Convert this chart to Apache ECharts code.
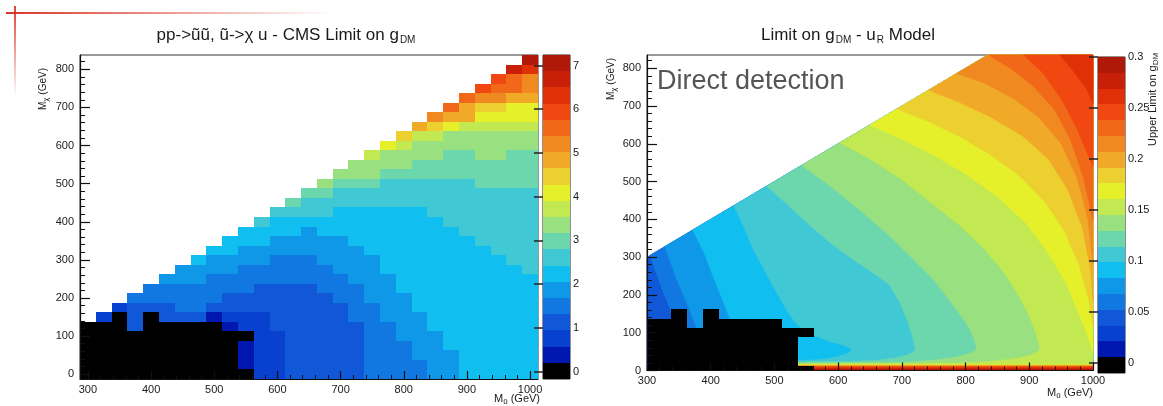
<!DOCTYPE html>
<html>
<head>
<meta charset="utf-8">
<script src="https://cdn.jsdelivr.net/npm/echarts@6/dist/echarts.min.js"></script>
<style>
html,body{margin:0;padding:0;background:#fff;}
#chart{width:1163px;height:406px;}
</style>
</head>
<body>
<div id="chart"></div>
<script>
// ---------------- CMS limit on g_DM (left panel) ----------------
// One array per squark mass M_u (GeV); entries are M_chi = 0, 25, 50, ... GeV.
// A value of 0 marks points with no limit (drawn black).
const cmsLimit300  = [0,0,0,0,0,0];
const cmsLimit325  = [0,0,0,0,0,0,0.8];
const cmsLimit350  = [0,0,0,0,0,0,0,0.8];
const cmsLimit375  = [0,0,0,0,0,1.1,1.1,1.1,1.5];
const cmsLimit400  = [0,0,0,0,0,0,0,1.1,1.5,1.5];
const cmsLimit425  = [0,0,0,0,0,0,1.1,1.1,1.5,1.5,1.9];
const cmsLimit450  = [0,0,0,0,0,0,1.1,1.5,1.5,1.5,1.9,1.9];
const cmsLimit475  = [0,0,0,0,0,0,1.1,1.5,1.5,1.5,1.9,1.9,2.2];
const cmsLimit500  = [0,0,0,0,0,0,0.4,1.1,1.5,1.5,1.5,1.9,1.9,2.2];
const cmsLimit525  = [0,0,0,0,0,0.4,0.8,1.1,1.1,1.5,1.5,1.9,1.9,2.2,2.2];
const cmsLimit550  = [0,0.4,0.4,0.4,0,0.8,0.8,1.1,1.1,1.5,1.5,1.5,1.9,1.9,2.2,2.2];
const cmsLimit575  = [0.8,0.8,0.8,0.8,0.8,0.8,0.8,1.1,1.1,1.1,1.5,1.5,1.9,1.9,2.2,2.2,2.6];
const cmsLimit600  = [0.8,0.8,0.8,0.8,0.8,1.1,1.1,1.1,1.1,1.1,1.5,1.5,1.5,1.9,1.9,2.2,2.2,2.6];
const cmsLimit625  = [1.1,1.1,1.1,1.1,1.1,1.1,1.1,1.1,1.1,1.1,1.5,1.5,1.5,1.9,1.9,2.2,2.2,2.6,3.0];
const cmsLimit650  = [1.1,1.1,1.1,1.1,1.1,1.1,1.1,1.1,1.1,1.1,1.5,1.5,1.5,1.9,1.9,1.9,2.2,2.6,2.6,3.0];
const cmsLimit675  = [1.1,1.1,1.1,1.1,1.1,1.1,1.1,1.1,1.1,1.5,1.5,1.5,1.9,1.9,1.9,2.2,2.2,2.6,2.6,3.0,3.4];
const cmsLimit700  = [1.1,1.1,1.1,1.1,1.1,1.1,1.1,1.1,1.5,1.5,1.5,1.9,1.9,1.9,1.9,2.2,2.2,2.2,2.6,2.6,3.0,3.4];
const cmsLimit725  = [1.1,1.1,1.1,1.1,1.1,1.1,1.5,1.5,1.5,1.5,1.9,1.9,1.9,1.9,2.2,2.2,2.2,2.2,2.6,2.6,3.0,3.4,3.4];
const cmsLimit750  = [1.5,1.5,1.5,1.5,1.5,1.5,1.5,1.5,1.9,1.9,1.9,1.9,1.9,2.2,2.2,2.2,2.2,2.2,2.6,2.6,3.0,3.4,3.4,3.7];
const cmsLimit775  = [1.5,1.5,1.5,1.5,1.5,1.5,1.9,1.9,1.9,1.9,1.9,2.2,2.2,2.2,2.2,2.2,2.2,2.2,2.6,2.6,2.6,3.0,3.4,3.4,4.1];
const cmsLimit800  = [1.5,1.5,1.5,1.5,1.9,1.9,1.9,1.9,1.9,2.2,2.2,2.2,2.2,2.2,2.2,2.2,2.2,2.2,2.6,2.6,2.6,3.0,3.4,3.4,3.7,4.5];
const cmsLimit825  = [1.5,1.5,1.9,1.9,1.9,1.9,1.9,2.2,2.2,2.2,2.2,2.2,2.2,2.2,2.2,2.2,2.2,2.2,2.6,2.6,2.6,3.0,3.0,3.4,3.4,3.7,4.8];
const cmsLimit850  = [1.9,1.9,1.9,1.9,1.9,2.2,2.2,2.2,2.2,2.2,2.2,2.2,2.2,2.2,2.2,2.2,2.2,2.6,2.6,2.6,2.6,3.0,3.0,3.4,3.4,3.7,4.5,5.2];
const cmsLimit875  = [1.9,1.9,1.9,2.2,2.2,2.2,2.2,2.2,2.2,2.2,2.2,2.2,2.2,2.2,2.2,2.2,2.6,2.6,2.6,2.6,2.6,3.0,3.0,3.0,3.4,3.4,4.1,4.8,5.6];
const cmsLimit900  = [2.2,2.2,2.2,2.2,2.2,2.2,2.2,2.2,2.2,2.2,2.2,2.2,2.2,2.2,2.2,2.6,2.6,2.6,2.6,2.6,2.6,3.0,3.0,3.0,3.4,3.4,3.7,4.8,4.8,5.6];
const cmsLimit925  = [2.2,2.2,2.2,2.2,2.2,2.2,2.2,2.2,2.2,2.2,2.2,2.2,2.2,2.2,2.6,2.6,2.6,2.6,2.6,2.6,3.0,3.0,3.0,3.4,3.4,3.4,3.7,4.1,4.5,5.2,5.9];
const cmsLimit950  = [2.2,2.2,2.2,2.2,2.2,2.2,2.2,2.2,2.2,2.2,2.2,2.2,2.2,2.6,2.6,2.6,2.6,2.6,2.6,2.6,3.0,3.0,3.0,3.4,3.4,3.4,3.7,4.1,4.5,5.2,5.6,5.9];
const cmsLimit975  = [2.2,2.2,2.2,2.2,2.2,2.2,2.2,2.2,2.2,2.2,2.2,2.2,2.6,2.6,2.6,2.6,2.6,2.6,2.6,2.6,3.0,3.0,3.0,3.0,3.4,3.4,3.7,4.1,4.1,4.8,5.6,5.6,6.7];
const cmsLimit1000 = [2.2,2.2,2.2,2.2,2.2,2.2,2.2,2.2,2.2,2.2,2.2,2.6,2.6,2.6,2.6,2.6,2.6,2.6,2.6,2.6,3.0,3.0,3.0,3.0,3.4,3.4,3.7,4.1,4.1,4.8,5.2,5.2,6.3,7.0];

const cmsMassU = [300,325,350,375,400,425,450,475,500,525,550,575,600,625,650,675,700,725,750,775,800,825,850,875,900,925,950,975,1000];
const cmsColumns = [cmsLimit300,cmsLimit325,cmsLimit350,cmsLimit375,cmsLimit400,cmsLimit425,cmsLimit450,cmsLimit475,
  cmsLimit500,cmsLimit525,cmsLimit550,cmsLimit575,cmsLimit600,cmsLimit625,cmsLimit650,cmsLimit675,cmsLimit700,
  cmsLimit725,cmsLimit750,cmsLimit775,cmsLimit800,cmsLimit825,cmsLimit850,cmsLimit875,cmsLimit900,cmsLimit925,
  cmsLimit950,cmsLimit975,cmsLimit1000];
const cmsBin = 25;            // GeV, both directions
const cmsZRange = [-0.17, 7.24];
const cmsXTicks = [300,400,500,600,700,800,900,1000];
const cmsYTicks = [0,100,200,300,400,500,600,700,800];
const cmsZTicks = [0,1,2,3,4,5,6,7];

// ---------------- Direct detection limit, u_R model (right panel) ----------------
// Iso-lines of the limit, [M_u, M_chi] points in GeV; each entry: [band above the line, points].
const ddBaseBand = 3;
const ddContour4  = [[305,305],[315,255],[326,205],[336,165],[342,130],[345,0]];
const ddContour5  = [[328,328],[347,240],[367,160],[378,112],[385,0]];
const ddContour6  = [[372,372],[390,310],[404,248],[418,190],[430,138],[436,0]];
const ddContour7  = [[436,436],[452,380],[467,319],[483,270],[498,222],[519,160],[535,122],[560,94],[588,76],[610,66],[619,58],[621,53],[616,46],[604,39],[585,32],[560,28],[530,26],[530,0]];
const ddContour8  = [[488,488],[520,440],[555,385],[590,335],[625,292],[655,258],[680,228],[697,180],[708,135],[715,100],[719,75],[721,60],[719,50],[710,42],[690,33],[660,27],[620,24],[530,23],[530,0]];
const ddContour9  = [[543,543],[590,485],[634,425],[675,365],[715,300],[750,240],[775,185],[795,140],[808,105],[814,80],[817,62],[815,52],[805,44],[785,35],[750,27],[700,22],[530,20],[530,0]];
const ddContour10 = [[603,603],[650,560],[700,505],[745,445],[790,385],[830,320],[860,260],[883,200],[900,145],[910,100],[915,72],[917,60],[914,50],[905,42],[880,32],[840,24],[780,19],[530,17],[530,0]];
const ddContour11 = [[650,650],[700,612],[750,570],[800,520],[850,460],[895,390],[930,310],[958,230],[978,150],[992,90],[1000,45]];
const ddContour12 = [[692,692],[740,660],[790,620],[840,570],[885,515],[925,445],[955,370],[978,280],[993,190],[1000,116]];
const ddContour13 = [[742,742],[790,710],[840,670],[890,620],[930,560],[960,480],[983,380],[996,270],[1000,186]];
const ddContour14 = [[786,786],[830,760],[875,720],[915,670],[950,600],[975,510],[992,400],[1000,284]];
const ddContour15 = [[836,835],[870,800],[905,755],[940,690],[965,610],[985,510],[1000,398]];
const ddContour16 = [[891,835],[920,790],[950,720],[975,640],[1000,539]];
const ddContour17 = [[948,835],[970,790],[990,745],[1000,707]];
const ddContours = [[4,ddContour4],[5,ddContour5],[6,ddContour6],[7,ddContour7],[8,ddContour8],[9,ddContour9],
  [10,ddContour10],[11,ddContour11],[12,ddContour12],[13,ddContour13],[14,ddContour14],[15,ddContour15],
  [16,ddContour16],[17,ddContour17]];
// Steep rise of the limit just above M_chi = 0: [band, upper M_chi edge]
const ddBottomStrip = [[11,15],[12,14],[13,13],[14,12],[15,11],[16,10],[17,8],[18,5],[19,2.5]];
const ddStripStart = 530;
const ddXRange = [300, 1000];
const ddYMax = 835;
const ddZRange = [-0.01, 0.3];
const ddXTicks = [300,400,500,600,700,800,900,1000];
const ddYTicks = [0,100,200,300,400,500,600,700,800];
const ddZTicks = [0,0.05,0.1,0.15,0.2,0.25,0.3];

// Shared 20-step colour palette (ROOT-style rainbow, black below the first level)
const palette = ['#000000','#0018b0','#0840d0','#1058d8','#1078e0','#1098e8','#10bef0','#40c8d4','#6cd6ac','#98e080',
  '#c2e852','#e6f02a','#ecd030','#f0aa28','#f08a20','#f06818','#f04810','#e03008','#c82008','#b01808'];
const nBands = palette.length;

const FONT = 'Liberation Sans, Arial, Helvetica, sans-serif';

function bandOf(v, range) {
  const w = (range[1] - range[0]) / nBands;
  return Math.max(0, Math.min(nBands - 1, Math.floor((v - range[0]) / w)));
}

// ---- series data ----
const cmsCells = [];
const ddBlackCells = [];
cmsColumns.forEach((col, i) => {
  col.forEach((v, j) => {
    cmsCells.push([cmsMassU[i], j * cmsBin, v]);
    if (bandOf(v, cmsZRange) === 0) ddBlackCells.push([cmsMassU[i], j * cmsBin, v]);
  });
});

function cellItem(params, api) {
  const x = api.value(0), y = api.value(1), v = api.value(2);
  const a = api.coord([x - cmsBin / 2, y + cmsBin / 2]);
  const b = api.coord([x + cmsBin / 2, y - cmsBin / 2]);
  const x0 = Math.round(a[0]), y0 = Math.round(a[1]);
  return { type: 'rect', shape: { x: x0, y: y0, width: Math.round(b[0]) - x0, height: Math.round(b[1]) - y0 },
    style: { fill: palette[bandOf(v, cmsZRange)] } };
}

function blackCellItem(params, api) {
  const x = api.value(0), y = api.value(1);
  const a = api.coord([Math.max(ddXRange[0], x - cmsBin / 2), y + cmsBin / 2]);
  const b = api.coord([x + cmsBin / 2, Math.max(0, y - cmsBin / 2)]);
  const x0 = Math.round(a[0]), y0 = Math.round(a[1]);
  return { type: 'rect', shape: { x: x0, y: y0, width: Math.round(b[0]) - x0, height: Math.round(b[1]) - y0 },
    style: { fill: '#000' } };
}

// Region above an iso-line, closed along the panel edges (right edge, top edge, M_chi = M_u line)
function highSide(line) {
  const out = line.slice();
  const first = line[0], last = line[line.length - 1];
  if (last[1] <= 0) out.push([ddXRange[1], 0]);
  out.push([ddXRange[1], ddYMax]);
  if (first[1] < ddYMax) out.push([ddYMax, ddYMax]);
  return out;
}
const ddShapes = [];
ddShapes.push({ band: ddBaseBand, pts: [[ddXRange[0], 0], [ddXRange[1], 0], [ddXRange[1], ddYMax], [ddYMax, ddYMax], [ddXRange[0], ddXRange[0]]] });
ddContours.forEach(c => ddShapes.push({ band: c[0], pts: highSide(c[1]) }));
ddBottomStrip.forEach(s => ddShapes.push({ band: s[0], pts: [[ddStripStart, 0], [ddXRange[1], 0], [ddXRange[1], s[1]], [ddStripStart, s[1]]] }));

function ddShapeItem(params, api) {
  const s = ddShapes[api.value(0)];
  return { type: 'polygon', shape: { points: s.pts.map(p => api.coord(p)) },
    style: { fill: palette[s.band], stroke: palette[s.band], lineWidth: 0.6 } };
}

function barItem(range) {
  const w = (range[1] - range[0]) / nBands;
  return function (params, api) {
    const k = api.value(0);
    const a = api.coord([0, range[0] + k * w]);
    const b = api.coord([1, range[0] + (k + 1) * w]);
    const y0 = Math.round(b[1]);
    return { type: 'rect', shape: { x: a[0], y: y0, width: b[0] - a[0], height: Math.round(a[1]) - y0 },
      style: { fill: palette[k] } };
  };
}
const bandIndex = palette.map((c, k) => [k]);

function minorList(from, to, step) {
  const out = [];
  for (let v = from; v <= to; v += step) out.push(v);
  return out;
}
const plainNumber = v => String(v);

// ---- axes ----
const labelStyle = { color: '#1a1a1a', fontSize: 11, fontFamily: FONT, formatter: plainNumber };
function majorAxis(extra) {
  return Object.assign({
    type: 'value', z: 10, splitLine: { show: false },
    axisLine: { show: true, onZero: false, lineStyle: { color: '#111', width: 1.2 } },
    axisTick: { show: true, inside: true, length: 9, lineStyle: { color: '#111', width: 1.2 } },
    axisLabel: Object.assign({ show: true, margin: 5 }, labelStyle)
  }, extra);
}
function minorAxis(extra) {
  return Object.assign({
    type: 'value', z: 10, splitLine: { show: false },
    axisLine: { show: false, onZero: false },
    axisTick: { show: true, inside: true, length: 5, lineStyle: { color: '#111', width: 1 } },
    axisLabel: { show: false }
  }, extra);
}

const cmsX = [cmsMassU[0] - cmsBin / 2, cmsMassU[cmsMassU.length - 1] + cmsBin / 2];
const cmsY = [-cmsBin / 2, cmsBin * 33 + cmsBin / 2];

const option = {
  animation: false,
  backgroundColor: '#ffffff',
  grid: [
    { left: 80, top: 55, width: 458, height: 324, show: true, borderColor: '#333', borderWidth: 1, backgroundColor: '#fff', z: 0 },
    { left: 647, top: 55, width: 446, height: 315.5, show: true, borderColor: '#333', borderWidth: 1, backgroundColor: '#fff', z: 0 },
    { left: 543, top: 55, width: 27, height: 324, show: true, borderColor: '#222', borderWidth: 1 },
    { left: 1098, top: 57, width: 27, height: 316, show: true, borderColor: '#222', borderWidth: 1 }
  ],
  xAxis: [
    majorAxis({ gridIndex: 0, position: 'bottom', min: cmsX[0], max: cmsX[1],
      axisTick: { show: true, inside: true, length: 8, customValues: cmsXTicks, lineStyle: { color: '#111', width: 1.2 } },
      axisLabel: Object.assign({ margin: 5, customValues: cmsXTicks }, labelStyle) }),
    minorAxis({ gridIndex: 0, position: 'bottom', min: cmsX[0], max: cmsX[1],
      axisTick: { show: true, inside: true, length: 4, customValues: minorList(300, 1000, 20), lineStyle: { color: '#111' } } }),
    majorAxis({ gridIndex: 1, position: 'bottom', min: ddXRange[0], max: ddXRange[1],
      axisTick: { show: true, inside: true, length: 8, customValues: ddXTicks, lineStyle: { color: '#111', width: 1.2 } },
      axisLabel: Object.assign({ margin: 5, customValues: ddXTicks }, labelStyle) }),
    minorAxis({ gridIndex: 1, position: 'bottom', min: ddXRange[0], max: ddXRange[1],
      axisTick: { show: true, inside: true, length: 4, customValues: minorList(300, 1000, 20), lineStyle: { color: '#111' } } }),
    { type: 'value', gridIndex: 2, min: 0, max: 1, show: false },
    { type: 'value', gridIndex: 3, min: 0, max: 1, show: false }
  ],
  yAxis: [
    majorAxis({ gridIndex: 0, position: 'left', min: cmsY[0], max: cmsY[1],
      axisTick: { show: true, inside: true, length: 10, customValues: cmsYTicks, lineStyle: { color: '#111', width: 1.2 } },
      axisLabel: Object.assign({ margin: 6, customValues: cmsYTicks }, labelStyle) }),
    minorAxis({ gridIndex: 0, position: 'left', min: cmsY[0], max: cmsY[1],
      axisTick: { show: true, inside: true, length: 5, customValues: minorList(0, 820, 20), lineStyle: { color: '#111' } } }),
    majorAxis({ gridIndex: 1, position: 'left', min: 0, max: ddYMax,
      axisTick: { show: true, inside: true, length: 10, customValues: ddYTicks, lineStyle: { color: '#111', width: 1.2 } },
      axisLabel: Object.assign({ margin: 6, customValues: ddYTicks }, labelStyle) }),
    minorAxis({ gridIndex: 1, position: 'left', min: 0, max: ddYMax,
      axisTick: { show: true, inside: true, length: 5, customValues: minorList(0, 820, 20), lineStyle: { color: '#111' } } }),
    { type: 'value', gridIndex: 2, position: 'right', min: cmsZRange[0], max: cmsZRange[1], z: 10, splitLine: { show: false },
      axisLine: { show: false },
      axisTick: { show: true, inside: true, length: 9, customValues: cmsZTicks, lineStyle: { color: '#222', width: 1.5 } },
      axisLabel: Object.assign({ margin: 3, customValues: cmsZTicks }, labelStyle) },
    { type: 'value', gridIndex: 3, position: 'right', min: ddZRange[0], max: ddZRange[1], z: 10, splitLine: { show: false },
      axisLine: { show: false },
      axisTick: { show: true, inside: true, length: 9, customValues: ddZTicks, lineStyle: { color: '#222', width: 1.5 } },
      axisLabel: Object.assign({ margin: 3, customValues: ddZTicks }, labelStyle) }
  ],
  series: [
    { type: 'custom', name: 'CMS limit', xAxisIndex: 0, yAxisIndex: 0, renderItem: cellItem,
      data: cmsCells, encode: { x: 0, y: 1 }, z: 2, silent: true },
    { type: 'custom', name: 'Direct detection', xAxisIndex: 2, yAxisIndex: 2, renderItem: ddShapeItem,
      data: ddShapes.map((s, i) => [i]), z: 2, silent: true },
    { type: 'custom', name: 'No limit', xAxisIndex: 2, yAxisIndex: 2, renderItem: blackCellItem,
      data: ddBlackCells, encode: { x: 0, y: 1 }, z: 3, silent: true },
    { type: 'custom', name: 'CMS scale', xAxisIndex: 4, yAxisIndex: 4, renderItem: barItem(cmsZRange),
      data: bandIndex, z: 2, silent: true },
    { type: 'custom', name: 'DD scale', xAxisIndex: 5, yAxisIndex: 5, renderItem: barItem(ddZRange),
      data: bandIndex, z: 2, silent: true }
  ],
  graphic: [
    // slide decoration
    { type: 'line', shape: { x1: 6, y1: 13, x2: 330, y2: 13 }, silent: true,
      style: { lineWidth: 2, stroke: { type: 'linear', x: 0, y: 0, x2: 1, y2: 0,
        colorStops: [{ offset: 0, color: 'rgba(215,40,25,0.95)' }, { offset: 1, color: 'rgba(215,40,25,0)' }] } } },
    { type: 'line', shape: { x1: 15, y1: 6, x2: 15, y2: 95 }, silent: true,
      style: { lineWidth: 2, stroke: { type: 'linear', x: 0, y: 0, x2: 0, y2: 1,
        colorStops: [{ offset: 0, color: 'rgba(215,40,25,0.9)' }, { offset: 1, color: 'rgba(215,40,25,0)' }] } } },
    // titles
    { type: 'text', x: 286, y: 35, silent: true,
      style: { text: 'pp->ũũ, ũ->χ u - CMS Limit on g{s|DM}', textAlign: 'center', textVerticalAlign: 'middle',
        fill: '#1a1a1a', font: '17px ' + FONT,
        rich: { s: { fontSize: 10, fontFamily: FONT, fill: '#1a1a1a', padding: [11, 0, 0, 1] } } } },
    { type: 'text', x: 848, y: 35, silent: true,
      style: { text: 'Limit on g{s|DM} - u{s|R} Model', textAlign: 'center', textVerticalAlign: 'middle',
        fill: '#1a1a1a', font: '17px ' + FONT,
        rich: { s: { fontSize: 10, fontFamily: FONT, fill: '#1a1a1a', padding: [11, 0, 0, 1] } } } },
    // axis titles
    { type: 'text', x: 43, y: 110, rotation: Math.PI / 2, silent: true,
      style: { text: 'M{s|χ} (GeV)', textAlign: 'left', textVerticalAlign: 'middle', fill: '#1a1a1a', font: '10px ' + FONT,
        rich: { s: { fontSize: 8, fontFamily: FONT, fill: '#1a1a1a', padding: [6, 0, 0, 0] } } } },
    { type: 'text', x: 540, y: 399, silent: true,
      style: { text: 'M{s|ũ} (GeV)', textAlign: 'right', textVerticalAlign: 'middle', fill: '#1a1a1a', font: '11px ' + FONT,
        rich: { s: { fontSize: 8, fontFamily: FONT, fill: '#1a1a1a', padding: [6, 0, 0, 0] } } } },
    { type: 'text', x: 611, y: 100, rotation: Math.PI / 2, silent: true,
      style: { text: 'M{s|χ} (GeV)', textAlign: 'left', textVerticalAlign: 'middle', fill: '#1a1a1a', font: '10px ' + FONT,
        rich: { s: { fontSize: 8, fontFamily: FONT, fill: '#1a1a1a', padding: [6, 0, 0, 0] } } } },
    { type: 'text', x: 1093, y: 393, silent: true,
      style: { text: 'M{s|ũ} (GeV)', textAlign: 'right', textVerticalAlign: 'middle', fill: '#1a1a1a', font: '11px ' + FONT,
        rich: { s: { fontSize: 8, fontFamily: FONT, fill: '#1a1a1a', padding: [6, 0, 0, 0] } } } },
    { type: 'text', x: 1153, y: 146, rotation: Math.PI / 2, silent: true,
      style: { text: 'Upper Limit on g{s|DM}', textAlign: 'left', textVerticalAlign: 'middle', fill: '#1a1a1a', font: '11px ' + FONT,
        rich: { s: { fontSize: 8, fontFamily: FONT, fill: '#1a1a1a', padding: [6, 0, 0, 0] } } } },
    // panel label
    { type: 'text', x: 657, y: 82, silent: true, z: 20,
      style: { text: 'Direct detection', textAlign: 'left', textVerticalAlign: 'middle', fill: '#555', font: '27px ' + FONT } }
  ]
};

const chart = echarts.init(document.getElementById('chart'), null, { renderer: 'canvas' });
chart.setOption(option);
</script>
</body>
</html>
